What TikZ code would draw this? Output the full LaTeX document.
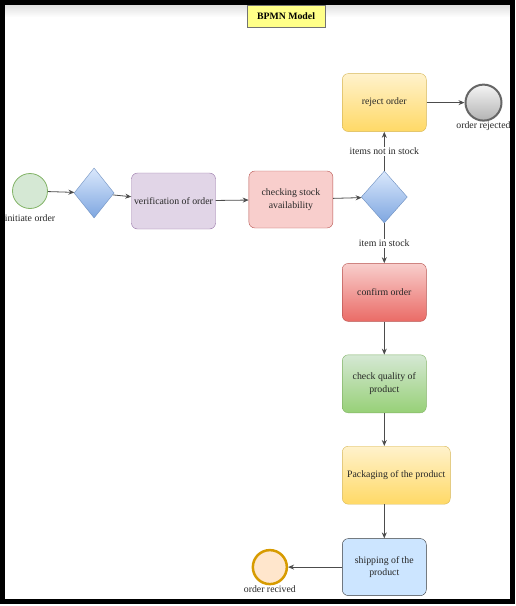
\documentclass[tikz,border=0pt]{standalone}
\usepackage{fontspec}
\setmainfont{Liberation Serif}
\usetikzlibrary{positioning,shapes.geometric,arrows.meta}

\definecolor{startfill}{HTML}{D5E8D4}
\definecolor{startline}{HTML}{82B366}
\definecolor{gatetop}{HTML}{DAE8FC}
\definecolor{gatebot}{HTML}{7EA6E0}
\definecolor{gateline}{HTML}{6C8EBF}
\definecolor{veriffill}{HTML}{E1D5E7}
\definecolor{verifline}{HTML}{9673A6}
\definecolor{redfill}{HTML}{F8CECC}
\definecolor{redline}{HTML}{B85450}
\definecolor{redbot}{HTML}{EA6B66}
\definecolor{yeltop}{HTML}{FFF2CC}
\definecolor{yelbot}{HTML}{FFD966}
\definecolor{yelline}{HTML}{D6B656}
\definecolor{grnbot}{HTML}{97D077}
\definecolor{shipfill}{HTML}{CCE5FF}
\definecolor{shipline}{HTML}{36393D}
\definecolor{recfill}{HTML}{FFE6CC}
\definecolor{recline}{HTML}{D79B00}
\definecolor{endline}{HTML}{666666}
\definecolor{titlefill}{HTML}{FFFF88}

\begin{document}
\begin{tikzpicture}[
  x=1pt, y=1pt,
  font=\fontsize{9.8}{12.5}\selectfont,
  task/.style={rectangle, draw, rounded corners=6pt, minimum width=84pt, minimum height=57pt, inner xsep=2pt, align=center, text=black!85},
  gate/.style={diamond, draw=gateline, top color=gatetop, bottom color=gatebot, minimum width=40pt, minimum height=50pt, inner sep=0pt},
  event/.style={circle, minimum size=35pt, inner sep=0pt},
  arrow/.style={-{Stealth[length=6pt,width=5pt]}, draw=black!70, line width=0.8pt},
  tag/.style={fill=white, inner sep=1pt, text=black!85}
]
\useasboundingbox (0,0) rectangle (516,-606);

% top shade and title
\shade[top color=black!12, bottom color=white] (5,-5) rectangle (510,-17);
\node[draw=black!55, fill=titlefill, minimum width=78pt, minimum height=22pt, font=\fontsize{9.8}{12}\selectfont\bfseries] (title) at (286,-16) {BPMN Model};

% first row
\node[event, draw=startline, fill=startfill, line width=0.8pt, label={[label distance=2pt, text=black!85]below:initiate order}] (start) at (30,-191) {};
\node[gate, right=26pt of start, yshift=-2pt] (gw1) {};
\node[task, draw=verifline, fill=veriffill, minimum height=56pt, right=17pt of gw1, yshift=-8pt] (verif) {verification of order};
\node[task, draw=redline, fill=redfill, right=33pt of verif, yshift=1.5pt] (check) {checking stock\\availability};
\node[gate, minimum width=46pt, minimum height=52pt, right=28pt of check, yshift=2.5pt] (gw2) {};

% branch up
\node[task, draw=yelline, top color=yeltop, bottom color=yelbot, minimum height=58pt, above=39pt of gw2] (reject) {reject order};
\node[event, draw=endline, top color=black!4, bottom color=black!30, line width=2pt, minimum size=36pt, right=38pt of reject, label={[label distance=-3pt, text=black!85]below:order rejected}] (rejected) {};

% main column
\node[task, draw=redline, top color=redfill, bottom color=redbot, minimum height=58pt, below=40pt of gw2] (confirm) {confirm order};
\node[task, draw=startline, top color=startfill, bottom color=grnbot, minimum height=58pt, below=33pt of confirm] (quality) {check quality of\\product};
\node[task, draw=yelline, top color=yeltop, bottom color=yelbot, minimum width=108pt, minimum height=58pt, below=33pt of quality, xshift=12pt] (pack) {Packaging of the product};
\node[task, draw=shipline, fill=shipfill, below=34pt of pack, xshift=-12pt] (ship) {shipping of the\\product};
\node[event, draw=recline, fill=recfill, line width=2.5pt, minimum size=34pt, left=54pt of ship, label={[label distance=-3pt, text=black!85]below:order recived}] (received) {};

% connectors
\draw[arrow] (start) -- (gw1);
\draw[arrow] (gw1) -- (verif);
\draw[arrow] (verif) -- (check);
\draw[arrow] (check) -- (gw2);
\draw[arrow] (gw2) -- node[tag] {items not in stock} (reject);
\draw[arrow] (reject) -- (rejected);
\draw[arrow] (gw2) -- node[tag] {item in stock} (confirm);
\draw[arrow] (confirm) -- (quality);
\draw[arrow] (quality) -- (quality.south |- pack.north);
\draw[arrow] (ship.north |- pack.south) -- (ship);
\draw[arrow] (ship) -- (received);

% frame
\draw[line width=5pt] (2.5,-2.5) rectangle (512.5,-601.5);
\end{tikzpicture}
\end{document}
